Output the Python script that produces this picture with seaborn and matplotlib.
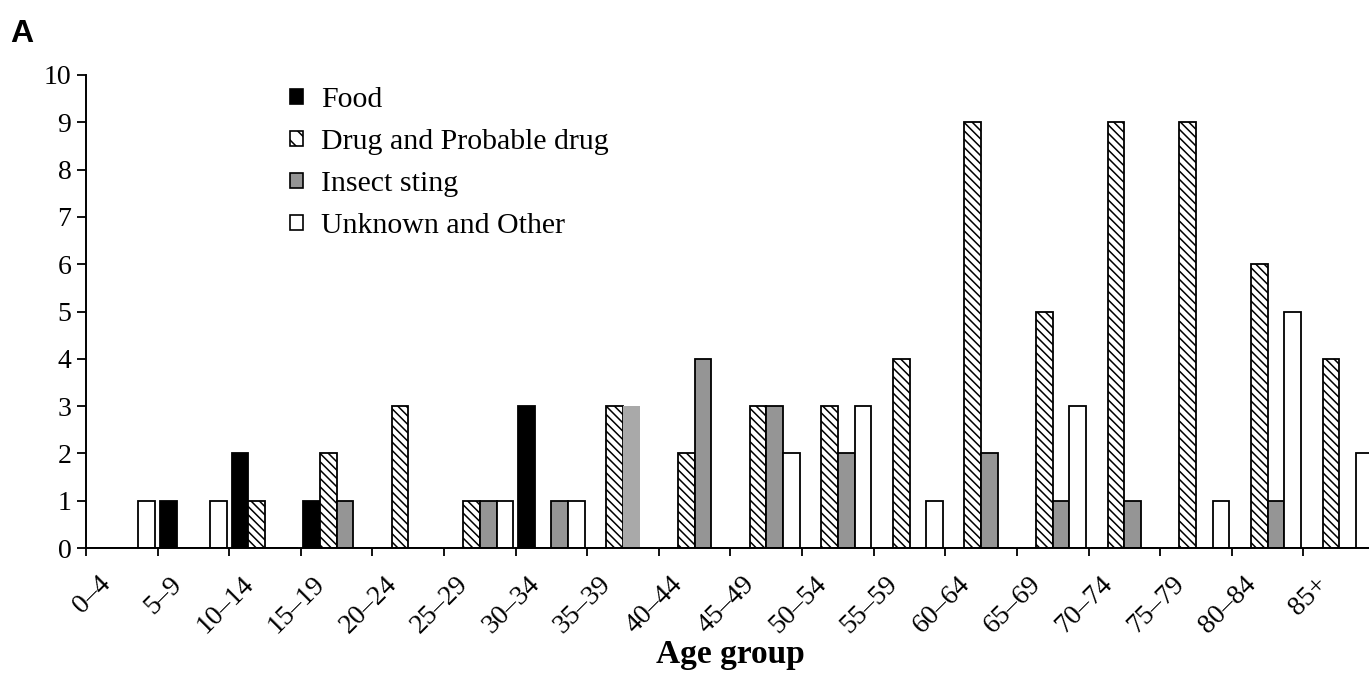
import matplotlib
matplotlib.use("Agg")
import matplotlib.pyplot as plt
from matplotlib.patches import Patch
import pandas as pd
import seaborn as sns

# Age groups (x categories)
age_groups = ["0–4", "5–9", "10–14", "15–19", "20–24", "25–29", "30–34",
              "35–39", "40–44", "45–49", "50–54", "55–59", "60–64", "65–69",
              "70–74", "75–79", "80–84", "85+"]

# Cases per cause in each age group
food = [0, 1, 2, 1, 0, 0, 3, 0, 0, 0, 0, 0, 0, 0, 0, 0, 0, 0]
drug = [0, 0, 1, 2, 3, 1, 0, 3, 2, 3, 3, 4, 9, 5, 9, 9, 6, 4]
insect = [0, 0, 0, 1, 0, 1, 1, 3, 4, 3, 2, 0, 2, 1, 1, 0, 1, 0]
unknown = [1, 1, 0, 0, 0, 1, 1, 0, 0, 2, 3, 1, 0, 3, 0, 1, 5, 2]

causes = ["Food", "Drug and Probable drug", "Insect sting", "Unknown and Other"]
series = [food, drug, insect, unknown]
colors = ["#000000", "#ffffff", "#959595", "#ffffff"]

df = pd.DataFrame({
    "age": [a for _ in causes for a in age_groups],
    "cause": [c for c in causes for _ in age_groups],
    "count": [v for s in series for v in s],
})

sns.set_theme(style="white")
plt.rcParams["font.family"] = ["Liberation Serif", "DejaVu Serif"]
plt.rcParams["text.color"] = "black"
plt.rcParams["axes.labelcolor"] = "black"
plt.rcParams["xtick.color"] = "black"
plt.rcParams["ytick.color"] = "black"
plt.rcParams["hatch.linewidth"] = 1.1
plt.rcParams["hatch.color"] = "black"

fig = plt.figure(figsize=(13.69, 6.89), dpi=100)
ax = fig.add_axes([86 / 1369, 1 - 548 / 689, 1289 / 1369, 473 / 689])

sns.barplot(data=df, x="age", y="count", hue="cause", order=age_groups,
            hue_order=causes, palette=colors, width=0.93, gap=0,
            saturation=1, edgecolor="black", linewidth=1.3, legend=False,
            ax=ax, errorbar=None)

# Hatch the drug series
for bar in ax.containers[1]:
    bar.set_hatch("\\\\\\\\")

# The 35–39 insect-sting bar is drawn in a lighter, borderless grey
light_bar = ax.containers[2][age_groups.index("35–39")]
light_bar.set_facecolor("#a9a9a9")
light_bar.set_edgecolor("none")

ax.set_xlim(-0.5, len(age_groups) - 0.5)
ax.set_ylim(0, 10)
ax.set_yticks(range(0, 11))
ax.set_yticklabels([str(i) for i in range(0, 11)], fontsize=20)

# Tick marks at category boundaries, labels offset to the right of them
ax.set_xticks([i - 0.5 for i in range(len(age_groups))])
ax.set_xticklabels([])
ax.set_xticks([i - 0.34 for i in range(len(age_groups))], minor=True)
ax.set_xticklabels(age_groups, minor=True, fontsize=20)
for lab in ax.get_xticklabels(minor=True):
    lab.set_rotation(45)
    lab.set_ha("right")
    lab.set_va("top")
    lab.set_rotation_mode("anchor")
ax.tick_params(axis="x", which="minor", length=0, pad=17)
ax.tick_params(axis="x", which="major", direction="out", length=6, width=1.3,
               color="black", bottom=True)
ax.tick_params(axis="y", direction="out", length=6.5, width=1.3,
               color="black", left=True, pad=4)

for side in ["top", "right"]:
    ax.spines[side].set_visible(False)
for side in ["left", "bottom"]:
    ax.spines[side].set_color("black")
    ax.spines[side].set_linewidth(1.4)
ax.set_xlabel("")
ax.set_ylabel("")

handles = [Patch(facecolor=colors[i], edgecolor="black", linewidth=1.2,
                 hatch="\\\\" if i == 1 else None, label=causes[i])
           for i in range(4)]
ax.legend(handles=handles, loc="upper left", frameon=False, fontsize=21.5,
          handlelength=0.45, handleheight=0.42, handletextpad=0.6,
          labelspacing=0.54, borderpad=0, borderaxespad=0,
          bbox_to_anchor=(290 / 1369, 1 - 87 / 689),
          bbox_transform=fig.transFigure)

fig.text(730 / 1369, 1 - 663 / 689, "Age group", ha="center", va="baseline",
         fontsize=24, fontweight="bold")
fig.text(10 / 1369, 1 - 42 / 689, "A", ha="left", va="baseline",
         fontsize=23, fontweight="bold", family=["Liberation Sans", "DejaVu Sans"])

fig.savefig("out.png", dpi=100)
